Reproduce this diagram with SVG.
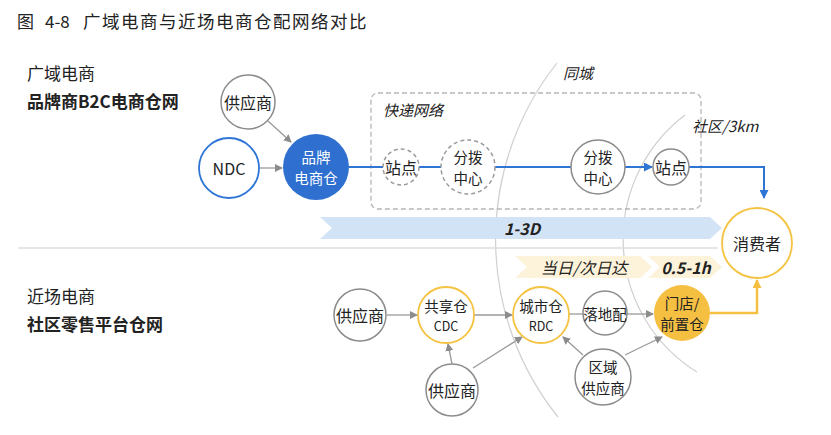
<svg xmlns="http://www.w3.org/2000/svg" width="831" height="435" viewBox="0 0 831 435">
<style>
text{font-family:"Noto Sans CJK SC","Noto Sans",sans-serif;fill:#222;}
.t{font-size:16px;text-anchor:middle;dominant-baseline:central;}
.m{font-size:14.5px;text-anchor:middle;dominant-baseline:central;}
.s{font-size:12.5px;text-anchor:middle;dominant-baseline:central;}
.it{font-style:italic;}
.g{fill:#fff;stroke:#8c8c8c;stroke-width:1.5;}
.d{fill:#fff;stroke:#9a9a9a;stroke-width:1.5;stroke-dasharray:4 3;}
.y{fill:#fff;stroke:#f5c342;stroke-width:1.8;}
.ga{stroke:#9a9a9a;stroke-width:1.3;fill:none;}
.bl{stroke:#2e75d6;stroke-width:2;fill:none;}
.arc{stroke:#cfcfcf;stroke-width:1.2;fill:none;}
</style>
<defs>
<marker id="ag" markerWidth="8" markerHeight="8" refX="7" refY="4" orient="auto" markerUnits="userSpaceOnUse"><path d="M0,0L8,4L0,8z" fill="#8c8c8c"/></marker>
<marker id="ab" markerWidth="9" markerHeight="9" refX="8" refY="4.5" orient="auto" markerUnits="userSpaceOnUse"><path d="M0,0L9,4.5L0,9z" fill="#2e75d6"/></marker>
<marker id="ay" markerWidth="9" markerHeight="9" refX="8" refY="4.5" orient="auto" markerUnits="userSpaceOnUse"><path d="M0,0L9,4.5L0,9z" fill="#f5bf42"/></marker>
</defs>
<rect width="831" height="435" fill="#fff"/>
<text x="17" y="28" font-size="17">图</text>
<text x="45" y="28" font-size="17">4-8</text>
<text x="83" y="28" font-size="17.5" letter-spacing="1.5">广域电商与近场电商仓配网络对比</text>

<text x="27" y="80" font-size="17">广域电商</text>
<text x="27" y="108" font-size="17" font-weight="bold">品牌商B2C电商仓网</text>
<text x="27" y="303" font-size="17">近场电商</text>
<text x="27" y="331" font-size="17" font-weight="bold">社区零售平台仓网</text>

<g id="arcs">
<path class="arc" d="M557,63 A284,284 0 0 0 558,417"/>
<path class="arc" d="M685,115 A156,156 0 0 0 697,372"/>
</g>
<line x1="18" y1="248" x2="718" y2="248" stroke="#dedede" stroke-width="1.5"/>

<g id="express-box">
<rect x="371" y="93" width="330" height="116" rx="7" fill="none" stroke="#b5b5b5" stroke-width="1.3" stroke-dasharray="5 3"/>
<text x="383" y="116" font-size="15" class="it">快递网络</text>
</g>
<text x="563" y="79" font-size="15" class="it">同城</text>
<text x="692" y="132" font-size="15" class="it">社区/3km</text>

<g id="banners">
<polygon points="320,217 710,217 722,228 710,239 320,239 332,228" fill="#d3e3f6"/>
<text x="522" y="228" class="t it" font-weight="bold">1-3D</text>
<polygon points="515,256 640,256 652,267 640,278 515,278 527,267" fill="#fdf2da"/>
<text x="584" y="267" class="t it">当日/次日达</text>
<polygon points="648,256 710,256 722,267 710,278 648,278 660,267" fill="#fdf2da"/>
<text x="686" y="267" class="t it" font-size="15" font-weight="bold">0.5-1h</text>
</g>

<g id="connectors">
<line class="ga" x1="268" y1="121" x2="291" y2="142" marker-end="url(#ag)"/>
<line class="ga" x1="260" y1="168" x2="282" y2="168" marker-end="url(#ag)"/>
<line class="bl" x1="349" y1="167" x2="384" y2="167"/>
<line class="bl" x1="419" y1="167" x2="442" y2="167"/>
<line class="bl" x1="495" y1="167" x2="572" y2="167"/>
<line class="bl" x1="625" y1="167" x2="652" y2="167" marker-end="url(#ab)"/>
<polyline class="bl" points="689,167 764,167 764,198" marker-end="url(#ab)"/>
<line class="ga" x1="387" y1="315" x2="417" y2="315" marker-end="url(#ag)"/>
<line class="ga" x1="474" y1="315" x2="512" y2="315" marker-end="url(#ag)"/>
<line class="ga" x1="569" y1="314" x2="583" y2="314"/>
<line class="ga" x1="627" y1="314" x2="653" y2="314" marker-end="url(#ag)"/>
<line class="ga" x1="452" y1="364" x2="448" y2="344" marker-end="url(#ag)"/>
<line class="ga" x1="473" y1="368" x2="522" y2="337" marker-end="url(#ag)"/>
<line class="ga" x1="583" y1="355" x2="563" y2="337" marker-end="url(#ag)"/>
<line class="ga" x1="625" y1="355" x2="662" y2="337" marker-end="url(#ag)"/>
<polyline points="710,313 757,313 757,280" fill="none" stroke="#f5bf42" stroke-width="2.5" marker-end="url(#ay)"/>
</g>

<g id="supplier-top"><circle class="g" cx="248" cy="102" r="27"/><text class="t" x="248" y="102">供应商</text></g>
<g id="ndc"><circle cx="229" cy="168" r="30" fill="#fff" stroke="#2e75d6" stroke-width="1.8"/><text class="t" x="229" y="168" font-size="14">NDC</text></g>
<g id="brand-wh"><circle cx="316" cy="167" r="33" fill="#2e6fcf"/><text class="m" x="316" y="156.5" style="fill:#fff">品牌</text><text class="m" x="316" y="177.5" style="fill:#fff">电商仓</text></g>
<g id="station1"><circle class="d" cx="401" cy="167" r="18"/><text class="t" x="401" y="167">站点</text></g>
<g id="hub1"><circle class="d" cx="468" cy="167" r="27"/><text class="m" x="468" y="156.5">分拨</text><text class="m" x="468" y="177.5">中心</text></g>
<g id="hub2"><circle class="g" cx="598" cy="167" r="27"/><text class="m" x="598" y="156.5">分拨</text><text class="m" x="598" y="177.5">中心</text></g>
<g id="station2"><circle class="g" cx="671" cy="167" r="18"/><text class="t" x="671" y="167">站点</text></g>
<g id="consumer"><circle class="y" cx="757" cy="243" r="35"/><text class="t" x="757" y="243">消费者</text></g>

<g id="supplier-left"><circle class="g" cx="360" cy="315" r="26"/><text class="t" x="360" y="315">供应商</text></g>
<g id="cdc"><circle class="y" cx="446" cy="315" r="28"/><text class="m" x="446" y="305">共享仓</text><text class="s" x="446" y="325">CDC</text></g>
<g id="rdc"><circle class="y" cx="541" cy="315" r="28"/><text class="m" x="541" y="305">城市仓</text><text class="s" x="541" y="325">RDC</text></g>
<g id="last-mile"><circle class="g" cx="605" cy="313" r="22"/><text class="m" x="605" y="313">落地配</text></g>
<g id="store"><circle cx="682" cy="313" r="28" fill="#f5bf42"/><text class="m" x="682" y="302.5">门店/</text><text class="m" x="682" y="323.5">前置仓</text></g>
<g id="supplier-bottom"><circle class="g" cx="452" cy="390" r="26"/><text class="t" x="452" y="390">供应商</text></g>
<g id="regional-supplier"><circle class="g" cx="603" cy="377" r="28"/><text class="m" x="603" y="366">区域</text><text class="m" x="603" y="387">供应商</text></g>
</svg>
